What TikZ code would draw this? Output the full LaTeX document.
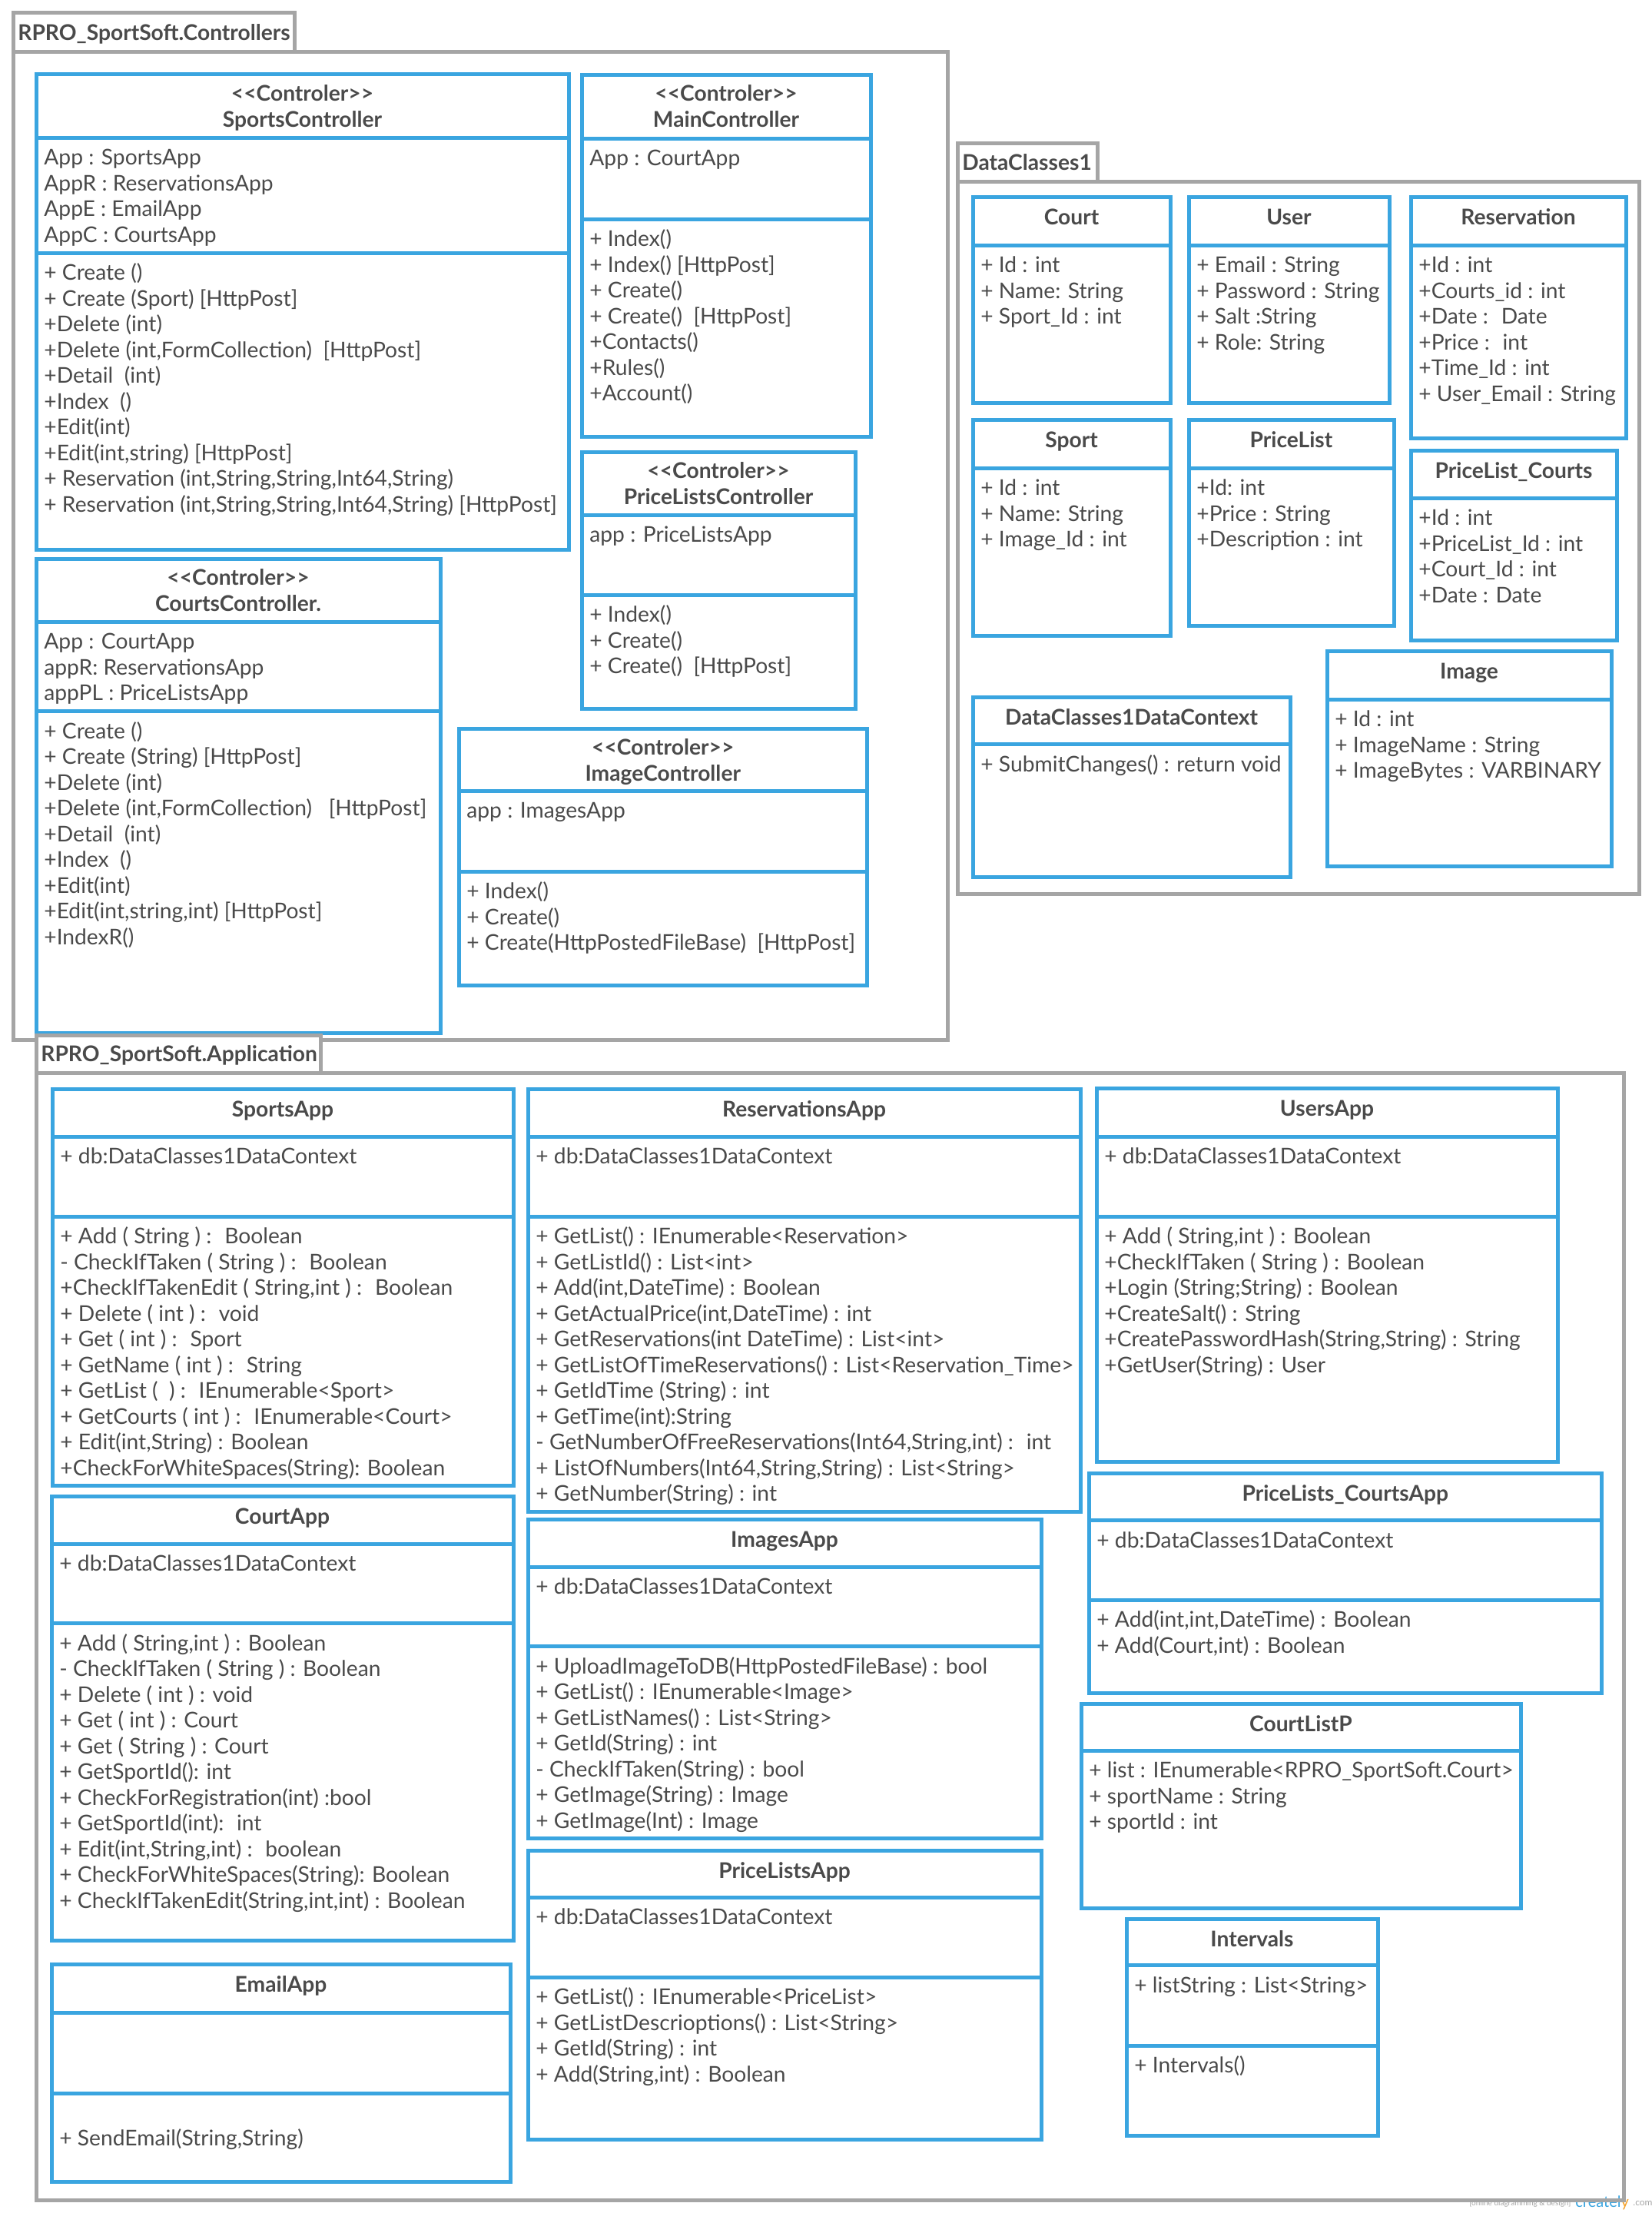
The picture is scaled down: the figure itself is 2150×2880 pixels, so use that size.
\documentclass[tikz,border=0pt]{standalone}
\usepackage{fontspec}
\setmainfont{Lato}
\usepackage{xcolor}
\usepackage{tikz}
\definecolor{umlblue}{RGB}{58,165,224}
\definecolor{pkggray}{RGB}{165,165,165}
\definecolor{txtgray}{RGB}{74,74,74}
\definecolor{logoorange}{RGB}{245,160,40}

% one text line per member, 33.5px apart
\newcommand{\members}[4]{%
  \foreach \memb [count=\i from 0] in {#4}
    \node[member] (#1-\i) at (#2,#3+33.5*\i) {\memb};}
\newcommand{\stereo}{<{}<Controler>{}>}

\begin{document}
\begin{tikzpicture}[x=0.5pt, y=-0.5pt,
  umlbox/.style={draw=umlblue, line width=2.5pt},
  pkgframe/.style={draw=pkggray, line width=2.5pt},
  pkgtab/.style={draw=pkggray, line width=2.5pt, fill=white},
  member/.style={anchor=base west, inner sep=0pt, text=txtgray, font=\fontsize{14.1}{16}\selectfont},
  umltitle/.style={anchor=base, inner sep=0pt, text=txtgray, font=\fontsize{14.1}{16}\selectfont\bfseries},
  pkglabel/.style={anchor=base west, inner sep=0pt, text=txtgray, font=\fontsize{14.1}{16}\selectfont\bfseries}]

\useasboundingbox (0,0) rectangle (2150,2880);

% package RPRO_SportSoft.Controllers
\draw[pkgframe] (17,67) rectangle (1233,1353);
\draw[pkgtab] (17,16) rectangle (383,67);
\node[pkglabel] (pkgctrl) at (23,52) {RPRO\_SportSoft.Controllers};

% SportsController
\draw[umlbox] (47,96) rectangle (740,715) (47,179) -- (740,179) (47,329) -- (740,329);
\node[umltitle] (sc-s) at (393.5,131.5) {\stereo};
\node[umltitle] (sc-n) at (393.5,165.5) {SportsController};
\members{sc-a}{57}{214.5}{App : SportsApp, AppR : ReservationsApp, AppE : EmailApp, AppC : CourtsApp}
\members{sc-m}{57}{364.5}{+ Create (), + Create (Sport) [HttpPost], +Delete (int),
  {+Delete (int,FormCollection)~ [HttpPost]}, +Detail~ (int), +Index~ (), +Edit(int),
  {+Edit(int,string) [HttpPost]}, {+ Reservation (int,String,String,Int64,String)},
  {+ Reservation (int,String,String,Int64,String) [HttpPost]}}

% MainController
\draw[umlbox] (757,97) rectangle (1133,568) (757,180) -- (1133,180) (757,285) -- (1133,285);
\node[umltitle] (mc-s) at (945,131.5) {\stereo};
\node[umltitle] (mc-n) at (945,165.5) {MainController};
\members{mc-a}{767}{215.5}{App : CourtApp}
\members{mc-m}{767}{320.5}{+ Index(), + Index() [HttpPost], + Create(), + Create()~ [HttpPost],
  +Contacts(), +Rules(), +Account()}

% PriceListsController
\draw[umlbox] (757,588) rectangle (1113,922) (757,670) -- (1113,670) (757,774) -- (1113,774);
\node[umltitle] (pc-s) at (935,622.5) {\stereo};
\node[umltitle] (pc-n) at (935,656.5) {PriceListsController};
\members{pc-a}{767}{705.5}{app : PriceListsApp}
\members{pc-m}{767}{809.5}{+ Index(), + Create(), + Create()~ [HttpPost]}

% CourtsController
\draw[umlbox] (47,727) rectangle (573.5,1344) (47,809) -- (573.5,809) (47,925.5) -- (573.5,925.5);
\node[umltitle] (cc-s) at (310,761.5) {\stereo};
\node[umltitle] (cc-n) at (310,795.5) {CourtsController.};
\members{cc-a}{57}{844.5}{App : CourtApp, appR: ReservationsApp, appPL : PriceListsApp}
\members{cc-m}{57}{961}{+ Create (), + Create (String) [HttpPost], +Delete (int),
  {+Delete (int,FormCollection)~~ [HttpPost]}, +Detail~ (int), +Index~ (), +Edit(int),
  {+Edit(int,string,int) [HttpPost]}, +IndexR()}

% ImageController
\draw[umlbox] (597,948) rectangle (1128.5,1282) (597,1029) -- (1128.5,1029) (597,1134) -- (1128.5,1134);
\node[umltitle] (ic-s) at (862.75,982.5) {\stereo};
\node[umltitle] (ic-n) at (862.75,1016.5) {ImageController};
\members{ic-a}{607}{1064.5}{app : ImagesApp}
\members{ic-m}{607}{1169.5}{+ Index(), + Create(), + Create(HttpPostedFileBase)~ [HttpPost]}

% package DataClasses1
\draw[pkgframe] (1246,236) rectangle (2133,1163);
\draw[pkgtab] (1246,186) rectangle (1428,236);
\node[pkglabel] (pkgdata) at (1252,221.5) {DataClasses1};

\draw[umlbox] (1266,256) rectangle (1523,524) (1266,319) -- (1523,319);
\node[umltitle] (court) at (1394.5,292) {Court};
\members{court-a}{1276}{354.5}{+ Id : int, + Name: String, + Sport\_Id : int}

\draw[umlbox] (1547,256) rectangle (1808,524) (1547,319) -- (1808,319);
\node[umltitle] (user) at (1677.5,292) {User};
\members{user-a}{1557}{354.5}{+ Email : String, + Password : String, + Salt :String, + Role: String}

\draw[umlbox] (1836,256) rectangle (2116,570) (1836,319) -- (2116,319);
\node[umltitle] (resv) at (1976,292) {Reservation};
\members{resv-a}{1846}{354.5}{+Id : int, +Courts\_id : int, +Date :~ Date, +Price :~ int,
  +Time\_Id : int, + User\_Email : String}

\draw[umlbox] (1266,546) rectangle (1523,827) (1266,609) -- (1523,609);
\node[umltitle] (sport) at (1394.5,582) {Sport};
\members{sport-a}{1276}{644.5}{+ Id : int, + Name: String, + Image\_Id : int}

\draw[umlbox] (1547,546) rectangle (1814,814) (1547,609) -- (1814,609);
\node[umltitle] (plist) at (1680.5,582) {PriceList};
\members{plist-a}{1557}{644.5}{+Id: int, +Price : String, +Description : int}

\draw[umlbox] (1836,586.5) rectangle (2104,833) (1836,648) -- (2104,648);
\node[umltitle] (plc) at (1970,622.5) {PriceList\_Courts};
\members{plc-a}{1846}{683.5}{+Id : int, +PriceList\_Id : int, +Court\_Id : int, +Date : Date}

\draw[umlbox] (1727,847) rectangle (2097,1127) (1727,910) -- (2097,910);
\node[umltitle] (image) at (1912,883) {Image};
\members{image-a}{1737}{945.5}{+ Id : int, + ImageName : String, + ImageBytes : VARBINARY}

\draw[umlbox] (1266,907) rectangle (1679,1141) (1266,968.5) -- (1679,968.5);
\node[umltitle] (dctx) at (1472.5,943) {DataClasses1DataContext};
\members{dctx-m}{1276}{1004}{+ SubmitChanges() : return void}

% watermark
\node[anchor=base west, inner sep=0pt, text=pkggray, font=\fontsize{5}{6}\selectfont] (wm1) at (1912,2870) {[online diagramming \& design]};
\node[anchor=base west, inner sep=0pt, font=\fontsize{10}{12}\selectfont] (wm2) at (2050,2872) {\textcolor{umlblue}{createl}\textcolor{logoorange}{y}};
\node[anchor=base west, inner sep=0pt, text=pkggray, font=\fontsize{6}{7}\selectfont] (wm3) at (2125,2870) {.com};

% package RPRO_SportSoft.Application
\draw[pkgframe] (47,1396) rectangle (2113,2863);
\draw[pkgtab] (47,1347) rectangle (417,1396);
\node[pkglabel] (pkgapp) at (53,1381.5) {RPRO\_SportSoft.Application};

% SportsApp
\draw[umlbox] (68,1417) rectangle (668,1933) (68,1479) -- (668,1479) (68,1583) -- (668,1583);
\node[umltitle] (spa) at (368,1453) {SportsApp};
\members{spa-a}{78}{1514.5}{+ db:DataClasses1DataContext}
\members{spa-m}{78}{1618.5}{+ Add ( String ) :~ Boolean, - CheckIfTaken ( String ) :~ Boolean,
  {+CheckIfTakenEdit ( String,int ) :~ Boolean}, + Delete ( int ) :~ void, + Get ( int ) :~ Sport,
  + GetName ( int ) :~ String, + GetList (~ ) :~ IEnumerable<Sport>,
  + GetCourts ( int ) :~ IEnumerable<Court>, {+ Edit(int,String) : Boolean},
  +CheckForWhiteSpaces(String): Boolean}

% ReservationsApp
\draw[umlbox] (687,1417) rectangle (1406,1967) (687,1479) -- (1406,1479) (687,1583) -- (1406,1583);
\node[umltitle] (rsa) at (1046.5,1453) {ReservationsApp};
\members{rsa-a}{697}{1514.5}{+ db:DataClasses1DataContext}
\members{rsa-m}{697}{1618.5}{+ GetList() : IEnumerable<Reservation>, + GetListId() : List<int>,
  {+ Add(int,DateTime) : Boolean}, {+ GetActualPrice(int,DateTime) : int},
  + GetReservations(int DateTime) : List<int>,
  + GetListOfTimeReservations() : List<Reservation\_Time>, + GetIdTime (String) : int,
  + GetTime(int):String, {- GetNumberOfFreeReservations(Int64,String,int) :~ int},
  {+ ListOfNumbers(Int64,String,String) : List<String>}, + GetNumber(String) : int}

% UsersApp
\draw[umlbox] (1427,1416) rectangle (2027.5,1902.5) (1427,1479) -- (2027.5,1479) (1427,1583) -- (2027.5,1583);
\node[umltitle] (usa) at (1727,1452.5) {UsersApp};
\members{usa-a}{1437}{1514.5}{+ db:DataClasses1DataContext}
\members{usa-m}{1437}{1618.5}{{+ Add ( String,int ) : Boolean}, +CheckIfTaken ( String ) : Boolean,
  +Login (String;String) : Boolean, +CreateSalt() : String,
  {+CreatePasswordHash(String,String) : String}, +GetUser(String) : User}

% CourtApp
\draw[umlbox] (67,1947) rectangle (668,2525) (67,2009) -- (668,2009) (67,2112.5) -- (668,2112.5);
\node[umltitle] (cta) at (367.5,1983) {CourtApp};
\members{cta-a}{77}{2044.5}{+ db:DataClasses1DataContext}
\members{cta-m}{77}{2148}{{+ Add ( String,int ) : Boolean}, - CheckIfTaken ( String ) : Boolean,
  + Delete ( int ) : void, + Get ( int ) : Court, + Get ( String ) : Court,
  + GetSportId(): int, + CheckForRegistration(int) :bool, + GetSportId(int):~ int,
  {+ Edit(int,String,int) :~ boolean}, + CheckForWhiteSpaces(String): Boolean,
  {+ CheckIfTakenEdit(String,int,int) : Boolean}}

% ImagesApp
\draw[umlbox] (687,1977) rectangle (1355,2392.5) (687,2039) -- (1355,2039) (687,2142.5) -- (1355,2142.5);
\node[umltitle] (ima) at (1021,2013) {ImagesApp};
\members{ima-a}{697}{2074.5}{+ db:DataClasses1DataContext}
\members{ima-m}{697}{2178}{+ UploadImageToDB(HttpPostedFileBase) : bool, + GetList() : IEnumerable<Image>,
  + GetListNames() : List<String>, + GetId(String) : int, - CheckIfTaken(String) : bool,
  + GetImage(String) : Image, + GetImage(Int) : Image}

% PriceLists_CourtsApp
\draw[umlbox] (1417,1917) rectangle (2084.5,2203) (1417,1978.6) -- (2084.5,1978.6) (1417,2082) -- (2084.5,2082);
\node[umltitle] (pca) at (1750.75,1953) {PriceLists\_CourtsApp};
\members{pca-a}{1427}{2014}{+ db:DataClasses1DataContext}
\members{pca-m}{1427}{2117.5}{{+ Add(int,int,DateTime) : Boolean}, {+ Add(Court,int) : Boolean}}

% EmailApp
\draw[umlbox] (67,2556) rectangle (664,2839) (67,2619) -- (664,2619) (67,2724) -- (664,2724);
\node[umltitle] (ema) at (365.5,2592) {EmailApp};
\members{ema-m}{77}{2792}{{+ SendEmail(String,String)}}

% PriceListsApp
\draw[umlbox] (687,2408) rectangle (1355,2784) (687,2469) -- (1355,2469) (687,2573) -- (1355,2573);
\node[umltitle] (pla) at (1021,2444) {PriceListsApp};
\members{pla-a}{697}{2504.5}{+ db:DataClasses1DataContext}
\members{pla-m}{697}{2608.5}{+ GetList() : IEnumerable<PriceList>, + GetListDescrioptions() : List<String>,
  + GetId(String) : int, {+ Add(String,int) : Boolean}}

% CourtListP
\draw[umlbox] (1407,2217) rectangle (1979,2483) (1407,2278) -- (1979,2278);
\node[umltitle] (clp) at (1693,2253) {CourtListP};
\members{clp-a}{1417}{2313.5}{+ list : IEnumerable<RPRO\_SportSoft.Court>, + sportName : String, + sportId : int}

% Intervals
\draw[umlbox] (1466,2497) rectangle (1793,2779) (1466,2557.6) -- (1793,2557.6) (1466,2662) -- (1793,2662);
\node[umltitle] (itv) at (1629.5,2533) {Intervals};
\members{itv-a}{1476}{2593}{+ listString : List<String>}
\members{itv-m}{1476}{2697.5}{+ Intervals()}

\end{tikzpicture}
\end{document}
